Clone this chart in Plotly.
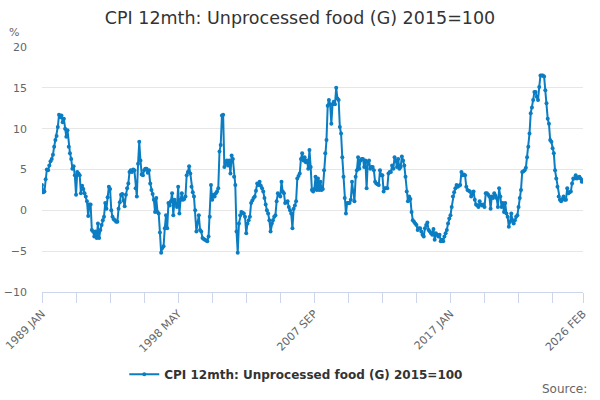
import plotly.graph_objects as go

MONTHS = ["JAN", "FEB", "MAR", "APR", "MAY", "JUN", "JUL", "AUG", "SEP", "OCT", "NOV", "DEC"]

v1989 = [3.1, 2.2, 2.3, 3.8, 5.0, 4.9, 5.5, 6.0, 6.3, 6.8, 7.8, 8.6]
v1990 = [9.1, 10.2, 11.7, 11.4, 11.6, 10.8, 11.2, 10.0, 9.0, 9.8, 7.8, 7.0]
v1991 = [6.3, 5.1, 5.4, 4.3, 1.9, 4.7, 4.5, 4.3, 2.1, 3.0, 2.6, 2.1]
v1992 = [1.7, 1.1, -0.7, 0.7, 0.7, -2.4, -2.6, -3.2, -2.6, -3.4, -1.6, -3.4]
v1993 = [-2.4, -1.8, -1.2, -0.8, 0.9, 0.2, 1.6, 2.9, 2.6, 0.0, -0.8, -1.1]
v1994 = [-1.2, -1.4, -1.4, 0.2, 1.0, 1.9, 2.0, 1.2, 0.5, 1.9, 2.7, 3.3]
v1995 = [4.7, 4.9, 4.7, 5.0, 4.9, 2.7, 1.7, 5.7, 8.4, 6.1, 4.4, 4.3]
v1996 = [4.9, 5.1, 5.1, 4.6, 4.9, 3.3, 2.5, 2.0, 1.3, -0.2, 1.5, -0.2]
v1997 = [-0.4, -2.7, -5.2, -4.6, -4.4, -2.2, -0.6, -2.2, 0.9, 0.6, 1.1, 2.1]
v1998 = [-0.6, 1.3, 0.8, 0.4, 2.9, -0.4, 1.3, 2.1, 1.3, 1.4, 1.7, 4.3]
v1999 = [4.7, 5.4, 4.5, 2.9, 2.2, 1.7, 0.0, -2.6, -1.5, -0.6, -2.4, -2.6]
v2000 = [-3.4, -3.5, -3.6, -3.7, -3.8, -3.2, -0.8, 3.1, 1.3, 1.9, 1.7, 2.1]
v2001 = [2.3, 2.7, 7.2, 8.0, 11.6, 11.7, 5.3, 5.8, 6.1, 5.5, 6.1, 4.5]
v2002 = [6.7, 6.3, 4.1, 3.1, -2.6, -5.2, -1.6, -0.6, -0.2, -0.3, -0.4, -0.8]
v2003 = [-2.8, -1.6, -1.2, -0.8, 0.9, 1.2, 1.5, 1.7, 2.4, 3.3, 3.1, 3.5]
v2004 = [3.0, 2.7, 2.3, 1.5, 0.7, 0.0, -0.4, -1.2, -2.6, -1.6, -1.2, -0.8]
v2005 = [-0.6, 1.1, 2.1, 1.9, 1.7, 3.5, 2.3, 2.1, 0.9, 1.0, 1.1, 0.4]
v2006 = [0.0, -0.4, -2.2, 0.2, 0.6, 1.1, 3.9, 4.2, 4.5, 6.3, 7.0, 6.1]
v2007 = [6.5, 5.9, 6.1, 5.1, 7.4, 5.3, 2.5, 2.3, 2.6, 4.1, 2.5, 3.9]
v2008 = [2.5, 3.5, 2.5, 2.6, 4.9, 7.0, 8.6, 12.8, 13.5, 13.0, 10.6, 13.0]
v2009 = [13.3, 13.0, 15.0, 13.7, 13.5, 10.2, 9.4, 6.5, 4.1, 1.5, -0.4, 0.9]
v2010 = [0.9, 0.9, 1.3, 3.5, 2.3, 1.1, 4.1, 4.9, 6.5, 5.1, 6.1, 6.3]
v2011 = [6.3, 5.3, 6.1, 2.7, 5.9, 6.1, 5.1, 5.3, 5.3, 4.9, 3.5, 3.3]
v2012 = [3.2, 3.1, 4.9, 4.3, 4.3, 2.3, 2.7, 2.7, 2.7, 4.5, 4.7, 4.7]
v2013 = [5.5, 5.1, 6.5, 6.1, 5.3, 6.3, 5.1, 5.3, 6.6, 6.1, 5.5, 4.1]
v2014 = [2.3, 1.1, 1.7, 1.4, -0.2, -1.2, -1.4, -1.6, -1.8, -2.4, -2.2, -2.2]
v2015 = [-2.6, -3.0, -3.2, -2.2, -1.8, -1.5, -2.4, -2.6, -2.8, -3.0, -2.3, -3.6]
v2016 = [-2.8, -3.0, -3.2, -3.0, -3.8, -3.6, -3.8, -3.2, -2.8, -2.4, -1.6, -1.0]
v2017 = [-0.6, 0.4, 1.7, 2.2, 2.7, 3.1, 2.9, 3.0, 3.1, 4.7, 4.3, 4.4]
v2018 = [4.3, 2.9, 2.5, 2.4, 2.3, 1.7, 2.0, 2.3, 1.3, 0.7, 0.6, 0.4]
v2019 = [1.1, 0.7, 0.6, 0.7, 0.4, 2.1, 2.1, 1.9, 1.7, 0.2, 1.7, 1.5]
v2020 = [2.1, 1.8, 1.5, 0.4, 2.7, 1.7, 0.4, 0.9, -0.2, 0.9, -0.4, -0.8]
v2021 = [-2.0, -1.4, -0.4, -1.2, -1.6, -1.2, -0.8, -0.6, 0.4, 1.5, 2.5, 4.7]
v2022 = [4.8, 4.9, 5.2, 6.5, 7.8, 9.4, 11.9, 12.6, 13.5, 14.5, 14.5, 13.9]
v2023 = [13.5, 15.1, 16.5, 16.5, 16.5, 16.4, 14.7, 13.1, 11.2, 10.6, 8.6, 8.4]
v2024 = [7.6, 7.0, 4.9, 3.9, 2.9, 1.7, 1.3, 1.1, 1.4, 1.7, 1.3, 1.3]
v2025 = [2.7, 2.1, 2.2, 2.3, 3.3, 3.9, 3.9, 4.3, 3.9, 4.0, 4.1, 3.9]
v2026 = [3.5, 3.7]

yearly = [v1989, v1990, v1991, v1992, v1993, v1994, v1995, v1996, v1997, v1998,
          v1999, v2000, v2001, v2002, v2003, v2004, v2005, v2006, v2007, v2008,
          v2009, v2010, v2011, v2012, v2013, v2014, v2015, v2016, v2017, v2018,
          v2019, v2020, v2021, v2022, v2023, v2024, v2025, v2026]

labels = []
values = []
for i, vals in enumerate(yearly):
    year = 1989 + i
    for j, v in enumerate(vals):
        labels.append(f"{year} {MONTHS[j]}")
        values.append(v)

tick_labels = ["1989 JAN", "1998 MAY", "2007 SEP", "2017 JAN", "2026 FEB"]
tick_step = 28
tickvals = [labels[k] for k in range(0, len(labels), tick_step)]
if labels[-1] not in tickvals:
    tickvals.append(labels[-1])
ticktext = [t if t in tick_labels else "" for t in tickvals]

color = "#0b7dc3"
fig = go.Figure()
fig.add_trace(go.Scatter(
    x=labels, y=values, mode="lines+markers",
    name="<b>CPI 12mth: Unprocessed food (G) 2015=100</b>",
    line=dict(color=color, width=2),
    marker=dict(color=color, size=4),
))

fig.update_layout(
    width=600, height=400,
    paper_bgcolor="white", plot_bgcolor="white",
    margin=dict(l=42, r=17, t=47, b=107),
    font=dict(family="DejaVu Sans, sans-serif", color="#333333"),
    title=dict(text="CPI 12mth: Unprocessed food (G) 2015=100", x=0.5, xanchor="center",
               y=0.955, yanchor="middle", font=dict(size=17.5, color="#333333")),
    showlegend=True,
    legend=dict(orientation="h", x=0.47, xanchor="center", y=-0.33, yanchor="middle",
                font=dict(size=12, color="#333333", family="DejaVu Sans, sans-serif")),
    xaxis=dict(
        type="category", range=[0, len(labels) - 1], automargin=False,
        tickmode="array", tickvals=tickvals, ticktext=ticktext,
        tickangle=-45, ticks="outside", ticklen=10, tickcolor="#ccd6eb",
        showline=True, linecolor="#ccd6eb", linewidth=1,
        showgrid=False, tickfont=dict(size=11, color="#666666"),
    ),
    yaxis=dict(
        range=[-10, 20], dtick=5, tick0=0, automargin=False,
        showgrid=True, gridcolor="#e6e6e6", zeroline=False,
        showline=False, tickfont=dict(size=11, color="#666666"),
        ticks="", ticklabelstandoff=14,
    ),
    annotations=[
        dict(text="%", xref="paper", yref="paper", x=-0.052, y=1.061,
             xanchor="center", yanchor="middle", showarrow=False,
             font=dict(size=11, color="#666666")),
        dict(text="Source:", xref="paper", yref="paper", x=1.011, y=-0.394,
             xanchor="right", yanchor="middle", showarrow=False,
             font=dict(size=12, color="#666666")),
    ],
)

fig.write_html("out.html", config={"displayModeBar": False},
               post_script="document.body.style.margin='0';document.body.style.padding='0';")
